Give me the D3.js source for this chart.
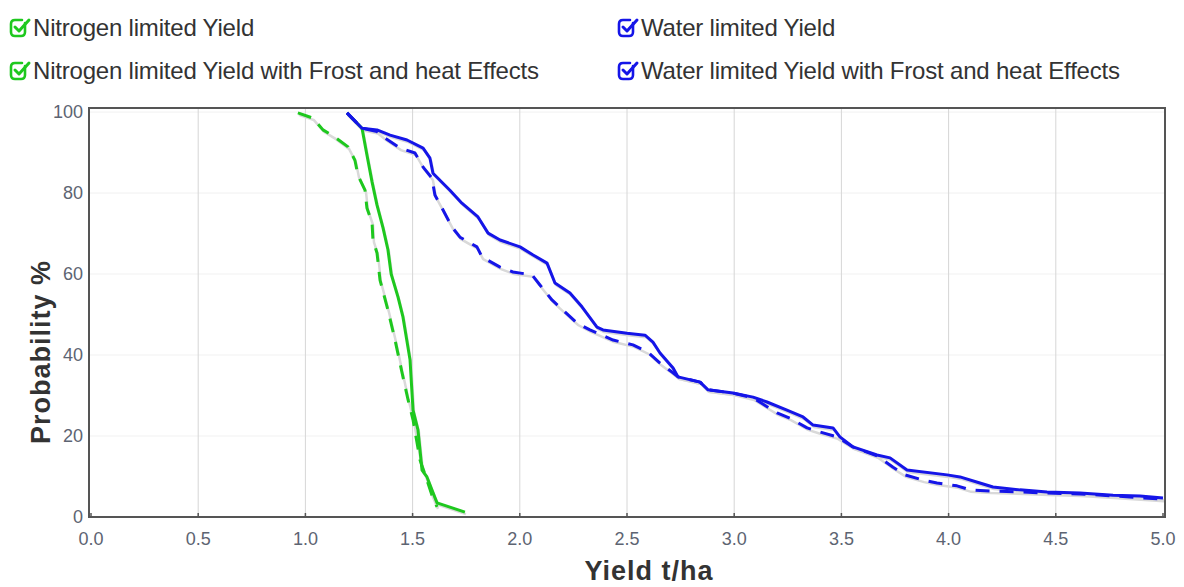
<!DOCTYPE html>
<html>
<head>
<meta charset="utf-8">
<script src="https://cdn.jsdelivr.net/npm/d3@7"></script>
<style>
body{margin:0;background:#fff;}
svg{display:block;font-family:"Liberation Sans",Arial,sans-serif;}
</style>
</head>
<body>
<div id="chart"></div>
<script>
// yield (t/ha), probability of exceedance (%)
const nitrogenYield=[[1.194,99.8],[1.264,96.0],[1.287,89.4],[1.311,82.7],[1.334,77.0],[1.362,71.4],[1.385,66.0],[1.40,60.0],[1.432,54.3],[1.455,49.4],[1.488,38.8],[1.502,26.4],[1.525,21.5],[1.544,11.6],[1.567,9.9],[1.59,6.7],[1.614,3.5],[1.66,2.7],[1.744,1.2]];
const nitrogenFrost=[[0.965,99.8],[1.035,98.5],[1.082,95.6],[1.138,93.8],[1.199,91.4],[1.231,88.1],[1.245,84.4],[1.278,80.7],[1.287,76.3],[1.311,72.6],[1.315,68.4],[1.334,65.2],[1.348,58.5],[1.385,51.1],[1.418,43.7],[1.45,35.8],[1.479,28.9],[1.502,24.0],[1.535,14.0],[1.567,9.1],[1.59,5.4],[1.614,2.5]];
const waterYield=[[1.194,99.8],[1.264,96.0],[1.334,95.6],[1.395,94.3],[1.474,93.1],[1.549,91.1],[1.581,88.6],[1.595,84.9],[1.674,80.7],[1.730,77.5],[1.805,74.1],[1.852,70.1],[1.908,68.4],[2.001,66.7],[2.062,64.7],[2.127,62.7],[2.164,57.8],[2.234,55.3],[2.290,51.9],[2.360,46.9],[2.388,46.2],[2.5,45.4],[2.584,44.9],[2.621,43.2],[2.654,40.5],[2.715,36.8],[2.738,34.6],[2.841,33.3],[2.878,31.4],[2.994,30.6],[3.088,29.6],[3.153,28.4],[3.246,26.4],[3.321,24.7],[3.368,22.7],[3.461,22.0],[3.493,19.8],[3.554,17.3],[3.666,15.3],[3.727,14.6],[3.806,11.6],[3.993,10.4],[4.053,9.9],[4.146,8.4],[4.207,7.4],[4.333,6.7],[4.459,6.2],[4.613,5.9],[4.767,5.4],[4.893,5.2],[5.0,4.7]];
const waterFrost=[[1.194,99.8],[1.264,96.0],[1.334,95.2],[1.371,93.6],[1.441,91.1],[1.511,89.9],[1.549,86.4],[1.590,83.7],[1.604,79.5],[1.642,75.8],[1.684,71.6],[1.721,69.1],[1.800,66.7],[1.824,64.2],[1.908,61.7],[1.968,60.5],[2.057,59.8],[2.094,57.3],[2.150,53.6],[2.201,51.1],[2.267,47.9],[2.327,46.2],[2.435,43.7],[2.528,42.5],[2.598,40.7],[2.654,38.0],[2.710,35.8],[2.738,34.6],[2.841,33.3],[2.878,31.4],[2.994,30.6],[3.088,29.4],[3.200,25.7],[3.260,24.4],[3.340,22.0],[3.400,21.0],[3.479,19.8],[3.554,17.3],[3.666,15.1],[3.741,12.3],[3.797,10.4],[3.881,9.1],[3.946,8.4],[4.039,7.7],[4.100,6.7],[4.193,6.4],[4.347,6.2],[4.459,5.9],[4.613,5.7],[4.767,5.2],[5.0,4.4]];

const xTicks=[0,0.5,1,1.5,2,2.5,3,3.5,4,4.5,5];
const yTicks=[0,20,40,60,80,100];

const green="#1ec81e";
const blue="#1515e8";

const series=[
  {name:"Nitrogen limited Yield",data:nitrogenYield,color:green,dash:null},
  {name:"Nitrogen limited Yield with Frost and heat Effects",data:nitrogenFrost,color:green,dash:"14,10"},
  {name:"Water limited Yield",data:waterYield,color:blue,dash:null},
  {name:"Water limited Yield with Frost and heat Effects",data:waterFrost,color:blue,dash:"14,10"}
];

const W=1184,H=587;
const svg=d3.select("#chart").append("svg").attr("width",W).attr("height",H);

const x=d3.scaleLinear().domain([0,5]).range([91,1163]);
const y=d3.scaleLinear().domain([0,101]).range([517,108]);

svg.append("defs").append("clipPath").attr("id","clip")
  .append("rect").attr("x",89).attr("y",108).attr("width",1076).attr("height",409);

// grid
svg.append("g").selectAll("line").data(yTicks.filter(d=>d>0)).enter().append("line")
  .attr("x1",89).attr("x2",1165).attr("y1",d=>y(d)).attr("y2",d=>y(d))
  .attr("stroke","#f1f1f1").attr("stroke-width",1);
svg.append("g").selectAll("line").data(xTicks.filter(d=>d>0&&d<5)).enter().append("line")
  .attr("x1",d=>x(d)).attr("x2",d=>x(d)).attr("y1",108).attr("y2",517)
  .attr("stroke","#d6d6d6").attr("stroke-width",1);

// frame
svg.append("rect").attr("x",89).attr("y",108).attr("width",1076).attr("height",409)
  .attr("fill","none").attr("stroke","#555").attr("stroke-width",2);

// bottom ticks
svg.append("g").selectAll("line").data(xTicks).enter().append("line")
  .attr("x1",d=>x(d)).attr("x2",d=>x(d)).attr("y1",517).attr("y2",513)
  .attr("stroke","#555").attr("stroke-width",1.5);

// tick labels
svg.append("g").selectAll("text").data(xTicks).enter().append("text")
  .attr("x",d=>x(d)).attr("y",545).attr("text-anchor","middle")
  .attr("font-size",18).attr("fill","#5d6472")
  .text(d=>d.toFixed(1));
svg.append("g").selectAll("text").data(yTicks).enter().append("text")
  .attr("x",83).attr("y",d=>y(d)+6).attr("text-anchor","end")
  .attr("font-size",18).attr("fill","#5d6472")
  .text(d=>d);

// axis titles
svg.append("text").attr("transform","translate(50,352) rotate(-90)")
  .attr("text-anchor","middle").attr("font-size",27).attr("font-weight","bold")
  .attr("letter-spacing",1).attr("fill","#333").text("Probability %");
svg.append("text").attr("x",649).attr("y",580)
  .attr("text-anchor","middle").attr("font-size",27).attr("font-weight","bold")
  .attr("letter-spacing",1).attr("fill","#333").text("Yield t/ha");

// lines
const line=d3.line().x(d=>x(d[0])).y(d=>y(d[1]));
const plot=svg.append("g").attr("clip-path","url(#clip)");
series.forEach(s=>{
  plot.append("path").datum(s.data).attr("d",line)
    .attr("transform","translate(1,2)")
    .attr("fill","none").attr("stroke","#d9d9d9").attr("stroke-width",2.5);
});
series.forEach(s=>{
  plot.append("path").datum(s.data).attr("d",line)
    .attr("fill","none").attr("stroke",s.color).attr("stroke-width",3)
    .attr("stroke-linejoin","round")
    .attr("stroke-dasharray",s.dash);
});

// legend
const legPos=[[11,37],[11,80],[619,37],[619,80]];
const leg=svg.append("g").selectAll("g").data(series).enter().append("g")
  .attr("transform",(d,i)=>`translate(${legPos[i][0]},${legPos[i][1]})`);
leg.append("path")
  .attr("d","M14,-14 L14,-5 Q14,-1 10,-1 L4,-1 Q0,-1 0,-5 L0,-13 Q0,-17 4,-17 L11,-17")
  .attr("fill","none").attr("stroke",d=>d.color).attr("stroke-width",2.6)
  .attr("stroke-linecap","round");
leg.append("path")
  .attr("d","M4,-10 L8,-6 L18,-17")
  .attr("fill","none").attr("stroke",d=>d.color).attr("stroke-width",3)
  .attr("stroke-linecap","round").attr("stroke-linejoin","round");
leg.append("text").attr("x",22).attr("y",-1)
  .attr("font-size",24).attr("letter-spacing",-0.2).attr("fill","#333")
  .text(d=>d.name);
</script>
</body>
</html>
